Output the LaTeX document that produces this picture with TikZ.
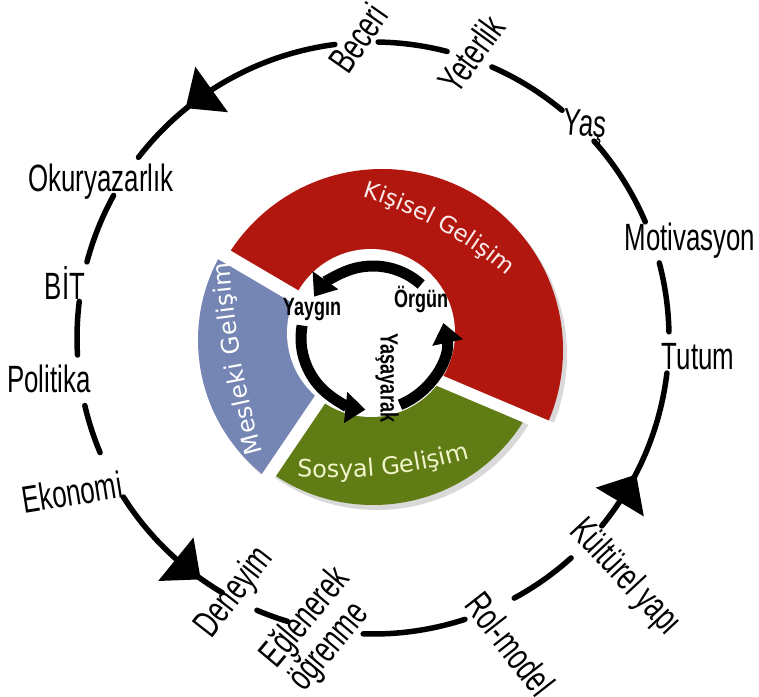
\documentclass[tikz,border=0pt]{standalone}
\usepackage{fontspec}
\setmainfont{Liberation Sans}
\newfontfamily\lblfont[FakeStretch=0.68]{Liberation Sans}
\newfontfamily\inlfont[FakeStretch=0.72]{Liberation Sans}
\newfontfamily\donutfont{DejaVu Sans}
\usetikzlibrary{decorations.text,arrows.meta}
\definecolor{kred}{HTML}{B2170F}
\definecolor{mblue}{HTML}{7585B4}
\definecolor{sgreen}{HTML}{607C14}
\definecolor{stext}{HTML}{F2F5CC}
\definecolor{ktext}{HTML}{FBECEC}
\begin{document}
\begin{tikzpicture}[x=1pt,y=1pt,
  ring/.style={line width=5.5pt, line cap=round},
  lbl/.style={font=\lblfont\fontsize{38}{31}\selectfont, inner sep=0pt, align=left},
  inl/.style={font=\inlfont\bfseries\fontsize{25}{26}\selectfont, inner sep=0pt},
  inarc/.style={line width=11pt, -{Triangle[length=20pt,width=30pt]}},
  segshadow/.style={fill=black!15},
]
\useasboundingbox (0,0) rectangle (759,696);
\coordinate (O) at (373,358);

% ---- donut segments ----
% Kisisel (red)
\begin{scope}
  \clip (394.6,340.9) -- (725.8,200.5) -- (900,200.5) -- (900,900) -- (-100,900)
        -- (-100,562.1) -- (32.4,562.1) -- (342.8,379.6) -- cycle;
  \fill[segshadow] (386,341) circle (181);
  \fill[kred] (382,346) circle (181);
\end{scope}
% Mesleki (blue)
\begin{scope}
  \clip (335.65,367.6) -- (25.35,550.1) -- (-200,700) -- (-200,-200) -- (100,-200)
        -- (144.3,48.75) -- (346.3,346.8) -- cycle;
  \fill[segshadow] (374,351) circle (172);
  \fill[mblue] (370,356) circle (172);
\end{scope}
% Sosyal (green)
\begin{scope}
  \clip (357.04,339.53) -- (155.1,41.45) -- (155.1,-200) -- (900,-200) -- (900,189.5)
        -- (721.2,189.5) -- (389.96,329.88) -- cycle;
  \fill[segshadow] (377,363) circle (177);
  \fill[sgreen] (373,368) circle (177);
\end{scope}
\fill[white] (371,363) circle (84);

% ---- curved segment titles ----
\path[decorate, decoration={text along path, text align=center, text color=ktext,
  text={|\donutfont\fontsize{23}{24}\selectfont|Kişisel Gelişim}}]
  ([shift={(74.2:400)}]246.2,116.5) arc[start angle=74.2, end angle=48.2, radius=400];
\path[decorate, decoration={text along path, text align=center, text color=stext,
  text={|\donutfont\fontsize{24}{26}\selectfont|Sosyal Gelişim}}]
  ([shift={(264:500)}]331.9,718.2) arc[start angle=264, end angle=288, radius=500];
\path[decorate, decoration={text along path, text align={fit to path}, text color=white,
  text={|\donutfont\fontsize{24}{26}\selectfont|Mesleki Gelişim}}]
  ([shift={(195.4:1004.5)}]1230.5,510.5) arc[start angle=195.4, end angle=184.4, radius=1004.5];

% ---- inner cycle ----
\draw[inarc] ([shift={(48:72)}]373,358) arc[start angle=48, end angle=145, radius=72];
\draw[inarc] ([shift={(170:72)}]373,358) arc[start angle=170, end angle=264, radius=72];
\draw[inarc] ([shift={(292:72)}]373,358) arc[start angle=292, end angle=372, radius=72];
\node[inl] (yaygin) at (312,386) {Yaygın};
\node[inl] (orgun) at (421,397) {Örgün};
\node[inl, rotate=-90] (yasayarak) at (387,318) {Yaşayarak};

% ---- outer ring ----
\foreach \a/\b in {97.4/142.4, 151.2/165.1, 172.9/183.3, 193.2/202.8, 212.5/239.4,
                   246.9/253.2, 268.1/288.1, 298.5/312, 320.6/353.2, 361.2/374.7,
                   23.1/41.7, 50.3/66.3, 75.5/89}{
  \draw[ring] ([shift={(\a:296)}]O) arc[start angle=\a, end angle=\b, radius=296];
}
\foreach \t in {125.7, 231, 329.1}{
  \begin{scope}[shift={(O)}, rotate=\t]
    \fill (296,18) -- (268,-14) -- (324,-14) -- cycle;
  \end{scope}
}

% ---- outer labels ----
\node[lbl, rotate=55] (beceri) at (358,658) {Beceri};
\node[lbl, rotate=54] (yeterlik) at (471,642) {Yeterlik};
\node[lbl, rotate=-5] (yas) at (585,569) {Yaş};
\node[lbl] (motivasyon) at (690,455) {Motivasyon};
\node[lbl] (tutum) at (698,339) {Tutum};
\node[lbl, rotate=-47] (kulturel) at (625,118) {Kültürel yapı};
\node[lbl, rotate=-52] (rolmodel) at (510,52) {Rol-model};
\node[lbl, rotate=50] (eglenerek) at (320,66) {Eğlenerek\\öğrenme};
\node[lbl, rotate=52] (deneyim) at (235,103) {Deneyim};
\node[lbl, rotate=9] (ekonomi) at (72,204) {Ekonomi};
\node[lbl] (politika) at (49,317) {Politika};
\node[lbl] (bit) at (65,413) {BİT};
\node[lbl] (okuryazarlik) at (101,514) {Okuryazarlık};
\end{tikzpicture}
\end{document}
